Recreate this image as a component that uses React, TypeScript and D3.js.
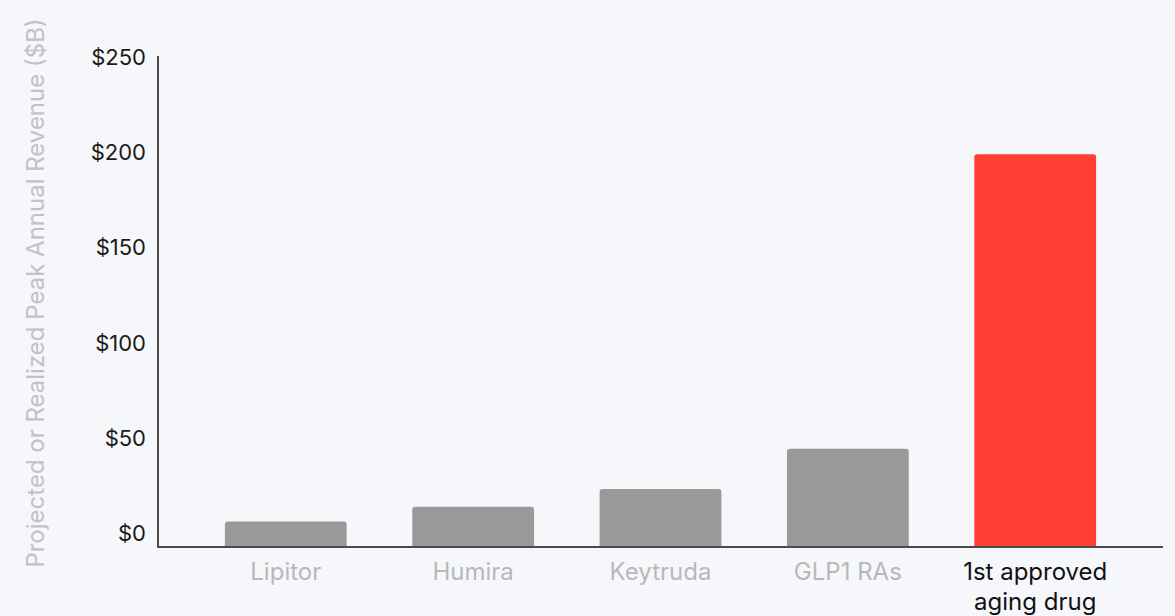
import React from "react";
import * as d3 from "d3";

const categories = ["Lipitor", "Humira", "Keytruda", "GLP1 RAs", "1st approved aging drug"];
const values = [13, 20.5, 29.5, 50, 200];
const highlight = [false, false, false, false, true];
const yTicks = [0, 50, 100, 150, 200, 250];
const yTitle = "Projected or Realized Peak Annual Revenue ($B)";

const W = 1175;
const H = 616;
const FONT = "Inter, 'Noto Sans', sans-serif";

export default function App() {
  const x = d3.scaleBand<string>().domain(categories).range([158, 1163]).paddingInner(0.35).paddingOuter(0.357);
  const y = d3.scaleLinear().domain([0, 250]).range([547, 56]);
  // tick labels sit on a slightly compressed scale in the reference
  const yLabel = d3.scaleLinear().domain([0, 250]).range([533, 57]);

  const wrap = (s: string) => (s === "1st approved aging drug" ? ["1st approved", "aging drug"] : [s]);

  return (
    <svg width={W} height={H} style={{ position: "fixed", left: 0, top: 0, display: "block" }} fontFamily={FONT}>
      <rect x={0} y={0} width={W} height={H} fill="#f6f7fb" />
      {categories.map((c, i) => {
        const x0 = x(c)!;
        const bw = x.bandwidth();
        const top = y(values[i]);
        const r = 3;
        const path = `M${x0},${y(0)} V${top + r} Q${x0},${top} ${x0 + r},${top} H${x0 + bw - r} Q${x0 + bw},${top} ${x0 + bw},${top + r} V${y(0)} Z`;
        return <path key={c} d={path} fill={highlight[i] ? "#ff3f33" : "#999999"} />;
      })}
      <line x1={158} x2={158} y1={y(250)} y2={y(0) + 1} stroke="#4a4a4a" strokeWidth={2} />
      <line x1={157} x2={1163} y1={y(0)} y2={y(0)} stroke="#4a4a4a" strokeWidth={2} />
      {yTicks.map((t) => (
        <text key={t} x={146} y={yLabel(t)} textAnchor="end" dominantBaseline="central" fontSize={22} fill="#1a1a1a">
          {"$" + t}
        </text>
      ))}
      {categories.map((c, i) => {
        const cx = x(c)! + x.bandwidth() / 2;
        return (
          <text key={c} x={cx} y={571} textAnchor="middle" fontSize={24} fill={highlight[i] ? "#111111" : "#b8b8b8"}>
            {wrap(c).map((line, j) => (
              <tspan key={j} x={cx} dy={j === 0 ? 0 : 30} dominantBaseline="central">
                {line}
              </tspan>
            ))}
          </text>
        );
      })}
      <text
        transform={`translate(35,293) rotate(-90)`}
        textAnchor="middle"
        dominantBaseline="central"
        fontSize={24}
        fill="#c2c2c2"
      >
        {yTitle}
      </text>
    </svg>
  );
}
